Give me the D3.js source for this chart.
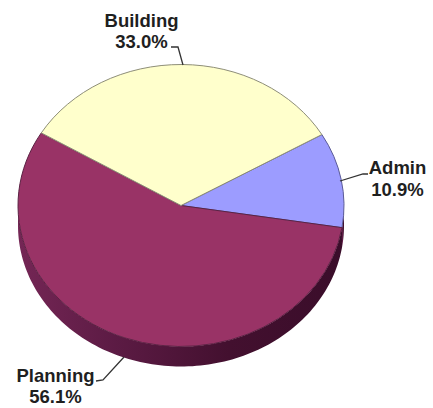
<!DOCTYPE html>
<html>
<head>
<meta charset="utf-8">
<style>
html,body{margin:0;padding:0;background:#fff}
svg{display:block}
text{font-family:"Liberation Sans",Arial,sans-serif;font-weight:700;font-size:18.5px;fill:#1f1f1f;text-anchor:middle}
</style>
<script src="https://cdnjs.cloudflare.com/ajax/libs/d3/7.8.5/d3.min.js"></script>
</head>
<body>
<script>
// Share of effort by phase, clockwise from the Admin wedge
const categories = ["Admin", "Planning", "Building"];
const shares = [10.9, 56.1, 33.0];
const fills = ["#9c9cff", "#993366", "#ffffcc"];
const edges = ["#5a5a96", "#5c2244", "#8e8e78"];

// Label text centres, baselines and leader polylines
const labelCentres = [[397.5, 174], [55.5, 381.5], [141.5, 26.5]];
const leaders = [
  [[340, 181], [363, 174], [368, 174]],
  [[124, 357], [103, 380], [96, 381]],
  [[183, 65], [178, 47], [171, 47]]
];

const width = 433, height = 408;
const cx = 181, cy = 205.5, rx = 163, ry = 141, depth = 20;
const startAngle = 59.8 * Math.PI / 180;

const svg = d3.select("body").append("svg").attr("width", width).attr("height", height);

const defs = svg.append("defs");
const wallGradient = defs.append("linearGradient").attr("id", "wall");
wallGradient.append("stop").attr("offset", "0%").attr("stop-color", "#742655");
wallGradient.append("stop").attr("offset", "30%").attr("stop-color", "#5c1b44");
wallGradient.append("stop").attr("offset", "65%").attr("stop-color", "#43102f");
wallGradient.append("stop").attr("offset", "100%").attr("stop-color", "#3a0d2a");

const pie = d3.pie().sort(null).startAngle(startAngle).endAngle(startAngle + 2 * Math.PI);
const slices = pie(shares);

// Rim point of the tilted disc at a clockwise angle from twelve o'clock
const rim = (a, dy) => [cx + rx * Math.sin(a), cy - ry * Math.cos(a) + dy];

// Visible wall of each wedge: the part of its rim facing the viewer
const wallPath = s => {
  const a0 = Math.max(s.startAngle % (2 * Math.PI), Math.PI / 2);
  const a1 = Math.min(s.startAngle % (2 * Math.PI) + (s.endAngle - s.startAngle), 3 * Math.PI / 2);
  if (a1 <= a0) return null;
  const angles = d3.range(0, 121).map(i => a0 + (a1 - a0) * i / 120);
  const top = angles.map(a => rim(a, 0));
  const bottom = angles.slice().reverse().map(a => rim(a, depth));
  return d3.line()(top.concat(bottom)) + "Z";
};

svg.append("g").selectAll("path").data(slices).join("path")
  .attr("d", wallPath)
  .attr("fill", "url(#wall)");

// Top face: a unit-scale arc flattened into an ellipse
const arc = d3.arc().innerRadius(0).outerRadius(100);
svg.append("g")
  .attr("transform", `translate(${cx},${cy}) scale(${rx / 100},${ry / 100})`)
  .selectAll("path").data(slices).join("path")
  .attr("d", arc)
  .attr("fill", (d, i) => fills[i])
  .attr("stroke", (d, i) => edges[i])
  .attr("stroke-width", 1)
  .style("vector-effect", "non-scaling-stroke");

// Leader lines
svg.append("g").selectAll("path").data(leaders).join("path")
  .attr("d", d3.line())
  .attr("fill", "none")
  .attr("stroke", "#333")
  .attr("stroke-width", 1.3);

// Two-line labels: name above, share below
const labels = svg.append("g").selectAll("g").data(categories).join("g")
  .attr("transform", (d, i) => `translate(${labelCentres[i][0]},${labelCentres[i][1]})`);
labels.append("text").text(d => d);
labels.append("text").attr("y", 21.5).text((d, i) => shares[i].toFixed(1) + "%");
</script>
</body>
</html>
